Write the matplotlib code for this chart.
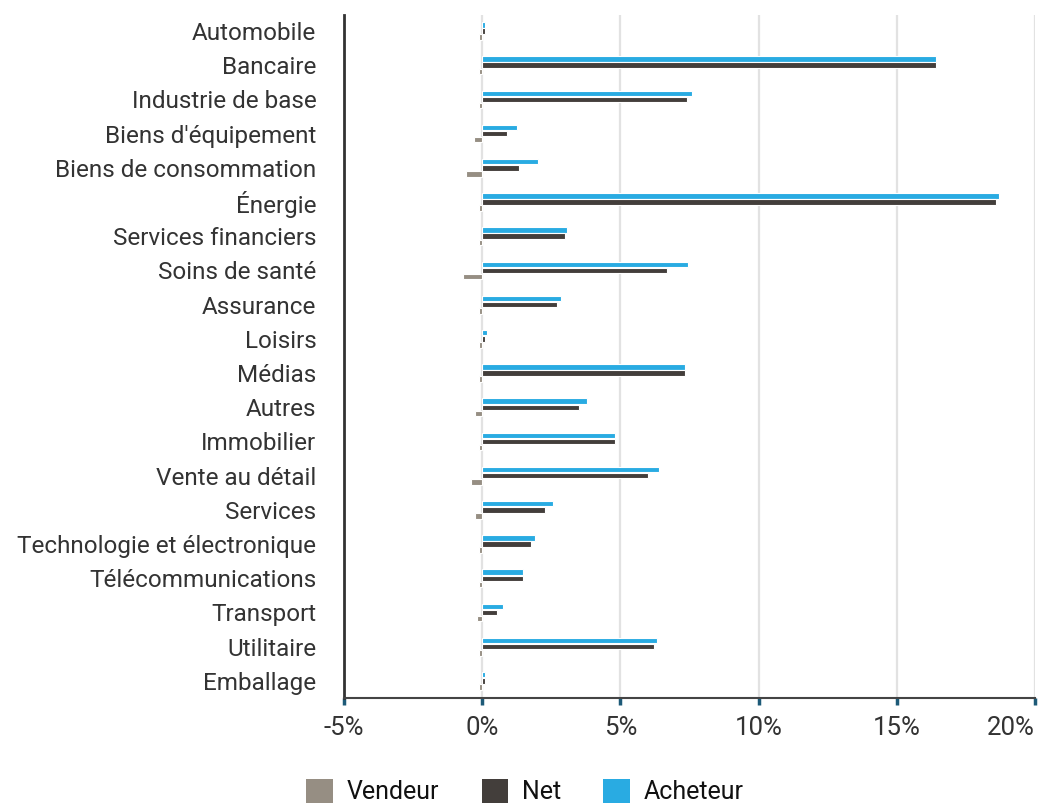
import matplotlib
matplotlib.use("Agg")
import matplotlib.pyplot as plt
import numpy as np
from matplotlib.patches import Patch

categories = ["Automobile", "Bancaire", "Industrie de base", "Biens d'équipement",
              "Biens de consommation", "Énergie", "Services financiers", "Soins de santé",
              "Assurance", "Loisirs", "Médias", "Autres", "Immobilier", "Vente au détail",
              "Services", "Technologie et électronique", "Télécommunications", "Transport",
              "Utilitaire", "Emballage"]
vendeur = [-0.1, -0.1, -0.1, -0.3, -0.6, -0.1, -0.1, -0.7, -0.1, -0.1,
           -0.1, -0.25, -0.1, -0.4, -0.25, -0.1, -0.1, -0.2, -0.1, -0.1]
net = [0.1, 16.4, 7.4, 0.9, 1.34, 18.6, 3.0, 6.67, 2.72, 0.1,
       7.35, 3.5, 4.8, 5.98, 2.28, 1.78, 1.49, 0.54, 6.2, 0.1]
acheteur = [0.1, 16.4, 7.6, 1.27, 2.0, 18.7, 3.08, 7.43, 2.86, 0.18,
            7.35, 3.8, 4.8, 6.4, 2.57, 1.92, 1.49, 0.76, 6.34, 0.1]
xticks = [-5, 0, 5, 10, 15, 20]
xticklabels = ["-5%", "0%", "5%", "10%", "15%", "20%"]

c_vend, c_net, c_ach = "#968e83", "#433e3b", "#29abe2"
font = "Roboto"

fig = plt.figure(figsize=(10.47, 8.06), dpi=100)
ax = fig.add_axes([0.3286, 0.134, 0.66, 0.8475])

y = np.arange(len(categories))
off = 0.18
h = 0.16
ax.barh(y - off, acheteur, height=h, color=c_ach, edgecolor="white", linewidth=0.8, zorder=3)
ax.barh(y, net, height=h, color=c_net, edgecolor="white", linewidth=0.8, zorder=3)
ax.barh(y + off, vendeur, height=h, color=c_vend, edgecolor="white", linewidth=0.8, zorder=3)

ax.set_xlim(-5, 20)
ax.set_ylim(19.5, -0.47)
ax.set_yticks(y)
ax.set_yticklabels(categories, fontsize=17.5, color="#333333", family=font)
ax.tick_params(axis="y", length=0, pad=20)
ax.set_xticks(xticks)
ax.set_xticklabels(xticklabels, fontsize=18.5, color="#333333", family=font)
ax.tick_params(axis="x", length=5, width=2.5, color="#1d5a78", pad=8)
ax.get_xticklabels()[-1].set_horizontalalignment("right")

ax.grid(axis="x", color="#e2e2e2", linewidth=1.6, zorder=0)
ax.set_axisbelow(True)
for s in ["top", "right"]:
    ax.spines[s].set_visible(False)
ax.spines["left"].set_color("#333333")
ax.spines["left"].set_linewidth(2)
ax.spines["bottom"].set_color("#444444")
ax.spines["bottom"].set_linewidth(1.5)

handles = [Patch(facecolor=c_vend, label="Vendeur"),
           Patch(facecolor=c_net, label="Net"),
           Patch(facecolor=c_ach, label="Acheteur")]
fig.legend(handles=handles, loc="center", bbox_to_anchor=(0.5014, 0.0175), ncol=3,
           frameon=False, prop={"family": font, "size": 18},
           handlelength=1.05, handleheight=1.05, columnspacing=1.7, handletextpad=0.56,
           labelcolor="#111111", borderpad=0.2)

fig.savefig("out.png", dpi=100)
